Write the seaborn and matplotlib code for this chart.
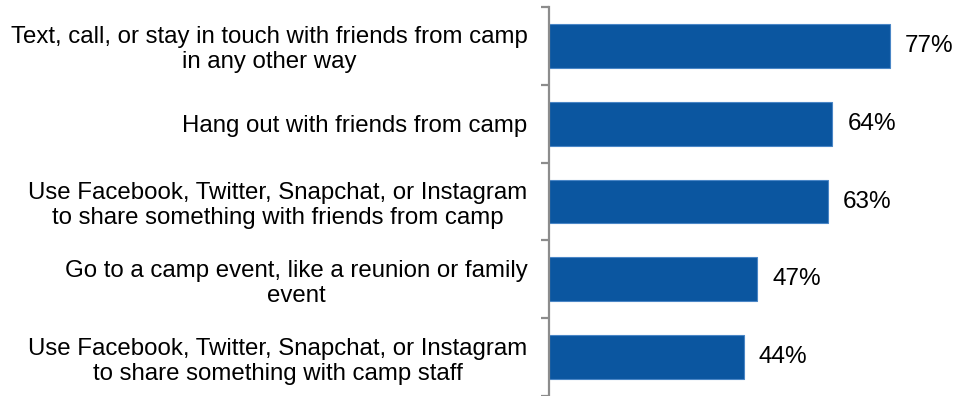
import matplotlib
matplotlib.use("Agg")
import matplotlib.pyplot as plt
from matplotlib.ticker import FixedLocator
import seaborn as sns
import pandas as pd

activities = [
    "Text, call, or stay in touch with friends from camp\nin any other way",
    "Hang out with friends from camp",
    "Use Facebook, Twitter, Snapchat, or Instagram\nto share something with friends from camp",
    "Go to a camp event, like a reunion or family\nevent",
    "Use Facebook, Twitter, Snapchat, or Instagram\nto share something with camp staff",
]
percents = [77, 64, 63, 47, 44]

df = pd.DataFrame({"activity": activities, "percent": percents})

sns.set_theme(style="white")
plt.rcParams["font.family"] = ["Liberation Sans", "DejaVu Sans"]

fig = plt.figure(figsize=(9.56, 3.96), dpi=100)
ax = fig.add_axes([549 / 956, 0.0, 1 - 549 / 956, 1 - 7 / 396])

bar_color = "#0B56A0"
sns.barplot(data=df, x="percent", y="activity", orient="h", color=bar_color,
            saturation=1, width=0.565, edgecolor="#4A86C6", linewidth=0.8, ax=ax)

ax.set_xlim(0, 91.9)
ax.set_ylim(len(activities) - 0.5, -0.5)
ax.set_xlabel("")
ax.set_ylabel("")
ax.set_xticks([])

for spine in ("top", "right", "bottom"):
    ax.spines[spine].set_visible(False)
ax.spines["left"].set_color("#8C8C8C")
ax.spines["left"].set_linewidth(1.6)

# category labels centred on bars, tick marks between categories
ax.set_yticks(range(len(activities)))
ax.set_yticklabels(activities, fontsize=17.3, color="black",
                   multialignment="center", linespacing=1.18)
ax.tick_params(axis="y", which="major", length=0, pad=15.5)
ax.yaxis.set_minor_locator(FixedLocator([i - 0.5 for i in range(len(activities) + 1)]))
ax.tick_params(axis="y", which="minor", left=True, length=6, width=1.6,
               color="#8C8C8C")

for i, v in enumerate(percents):
    ax.text(v + 3.4, i, f"{v}%", va="center", ha="left", fontsize=17.5,
            color="black")

fig.savefig("out.png", dpi=100)
